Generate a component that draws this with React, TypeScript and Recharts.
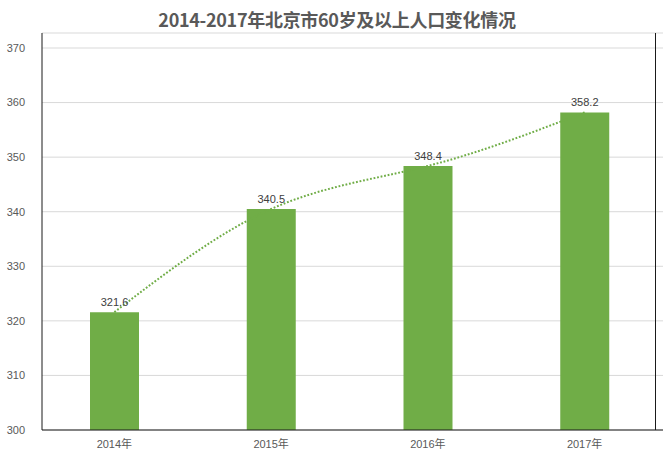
import React from "react";
import {
  ComposedChart,
  Bar,
  Line,
  XAxis,
  YAxis,
  CartesianGrid,
  LabelList,
} from "recharts";

const title = "2014-2017年北京市60岁及以上人口变化情况";
const years = ["2014年", "2015年", "2016年", "2017年"];
const population = [321.6, 340.5, 348.4, 358.2];
const yTicks = [300, 310, 320, 330, 340, 350, 360, 370];

const data = years.map((year, i) => ({ year, population: population[i] }));

const GREEN = "#70AD47";
const FONT = "'Liberation Sans', 'Noto Sans CJK SC', sans-serif";

export default function App() {
  return (
    <div style={{ position: "absolute", left: 0, top: 0, width: 670, height: 457, background: "#fff" }}>
      <div
        style={{
          position: "absolute",
          left: 0,
          top: 7,
          width: 674,
          textAlign: "center",
          fontFamily: "'Noto Sans CJK SC', sans-serif",
          fontWeight: 700,
          fontSize: 18,
          lineHeight: "24px",
          color: "#595959",
          letterSpacing: "-0.3px",
        }}
      >
        {title}
      </div>
      <ComposedChart
        width={670}
        height={457}
        data={data}
        margin={{ top: 33, right: 7, bottom: 0, left: 0 }}
        style={{ fontFamily: FONT }}
      >
        <CartesianGrid vertical={false} stroke="#D9D9D9" />
        <XAxis
          dataKey="year"
          height={27}
          padding={{ left: -6, right: 0 }}
          tickLine={false}
          tickSize={0}
          tickMargin={10}
          axisLine={{ stroke: "#1a1a1a" }}
          tick={{ fontSize: 11, fill: "#595959", fontFamily: FONT }}
        />
        <YAxis
          domain={[300, 372.75]}
          allowDataOverflow
          ticks={yTicks}
          width={42}
          axisLine={{ stroke: "#1a1a1a" }}
          tickLine={false}
          tickSize={0}
          tickMargin={17}
          tick={{ fontSize: 11, fill: "#595959", fontFamily: FONT }}
        />
        <Line
          dataKey="population"
          type="natural"
          stroke={GREEN}
          strokeWidth={2}
          strokeDasharray="1.8 1.8"
          dot={false}
          activeDot={false}
          isAnimationActive={false}
        />
        <Bar dataKey="population" fill={GREEN} barSize={49} isAnimationActive={false}>
          <LabelList
            dataKey="population"
            position="top"
            offset={6}
            style={{ fontSize: 11, fill: "#404040", fontFamily: FONT }}
          />
        </Bar>
      </ComposedChart>
      <div
        style={{
          position: "absolute",
          left: 655,
          top: 33,
          width: 0,
          height: 397,
          borderLeft: "1px solid #1a1a1a",
          pointerEvents: "none",
        }}
      />
    </div>
  );
}
